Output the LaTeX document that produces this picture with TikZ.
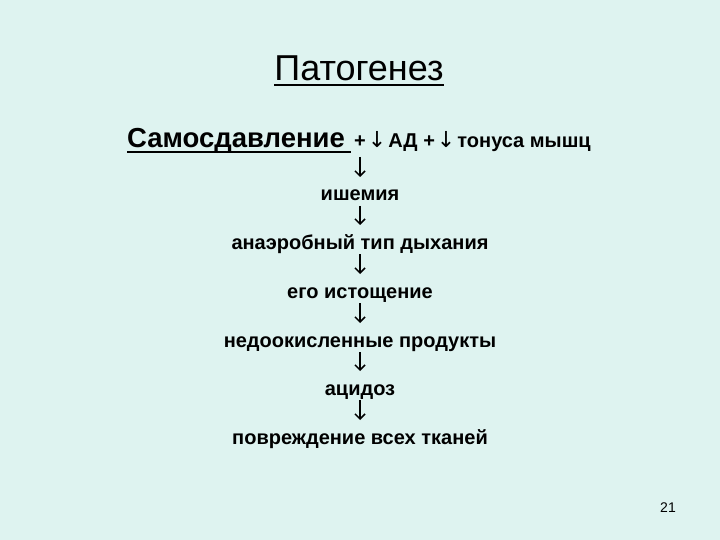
\documentclass[tikz,border=0pt]{standalone}
\usepackage{fontspec}
\setmainfont{Liberation Sans}
\newfontfamily\arrowfont{DejaVu Sans}
\usetikzlibrary{arrows.meta}
\definecolor{slidebg}{RGB}{222,243,240}
\newcommand{\dnarr}{\kern2pt{\arrowfont\fontsize{22}{22}\selectfont\mdseries↓}\kern2pt}
\tikzset{
  lbl/.style={font=\fontsize{20}{22}\selectfont\bfseries, inner sep=0pt, anchor=base},
  flow/.style={-{Straight Barb[length=5pt,width=10pt]}, line width=1.5pt},
  uline/.style={line width=1.8pt}
}
\begin{document}
\begin{tikzpicture}[x=1pt,y=-1pt]
\fill[slidebg] (0,0) rectangle (720,540);
\useasboundingbox (0,0) rectangle (720,540);
% title
\node[font=\fontsize{36}{40}\selectfont, inner sep=0pt, anchor=base] (title) at (359,81) {Патогенез};
\draw[uline] (title.base west) ++(0,4) coordinate (tl) -- (title.base east |- tl);
% first line
\node[font=\fontsize{27.5}{30}\selectfont\bfseries, inner sep=0pt, anchor=base west] (self) at (127,148) {Самосдавление};
\draw[uline] (self.base west) ++(0,4) coordinate (sl) -- ([xshift=6pt]self.base east |- sl);
\node[lbl, anchor=base west] (cause) at (354,148) {+\dnarr АД +\dnarr тонуса мышц};
% chain
\coordinate (top) at (360,148);
\node[lbl] (n1) at (360,201) {ишемия};
\node[lbl] (n2) at (360,249) {анаэробный тип дыхания};
\node[lbl] (n3) at (360,298) {его истощение};
\node[lbl] (n4) at (360,347) {недоокисленные продукты};
\node[lbl] (n5) at (360,395) {ацидоз};
\node[lbl] (n6) at (360,444) {повреждение всех тканей};
\draw[flow] ([yshift=-9pt]top) -- ([yshift=24pt]n1.base);
\draw[flow] ([yshift=-5pt]n1.base) -- ([yshift=24pt]n2.base);
\draw[flow] ([yshift=-5pt]n2.base) -- ([yshift=24pt]n3.base);
\draw[flow] ([yshift=-5pt]n3.base) -- ([yshift=24pt]n4.base);
\draw[flow] ([yshift=-5pt]n4.base) -- ([yshift=24pt]n5.base);
\draw[flow] ([yshift=-5pt]n5.base) -- ([yshift=24pt]n6.base);
% page number
\node[font=\fontsize{14}{16}\selectfont, inner sep=0pt, anchor=base] (pg) at (668,512) {21};
\end{tikzpicture}
\end{document}
